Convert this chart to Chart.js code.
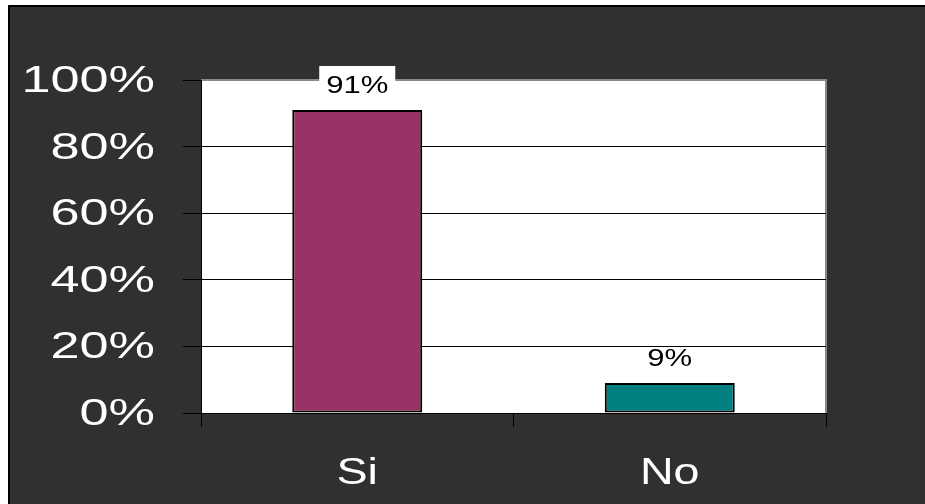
<!DOCTYPE html>
<html>
<head>
<meta charset="utf-8">
<script src="https://cdn.jsdelivr.net/npm/chart.js@4/dist/chart.umd.min.js"></script>
<style>
    html, body { margin: 0; padding: 0; background: #ffffff; }
    #wrap { width: 925px; height: 504px; position: relative; }
</style>
</head>
<body>
<div id="wrap"><canvas id="chart1" width="925" height="504"></canvas></div>
<script>
// values
const categories = ['Si', 'No'];
const answers = [91, 9];
const barColors = ['#993366', '#008080'];
const yTicks = [0, 20, 40, 60, 80, 100];

const font = '"Liberation Sans", Arial, sans-serif';

// the original text is drawn wide, so squeeze it out horizontally
function wideText(ctx, text, x, y, sx, align) {
    ctx.save();
    ctx.translate(x, y);
    ctx.scale(sx, 1);
    ctx.textAlign = align;
    ctx.textBaseline = 'middle';
    ctx.fillText(text, 0, 0);
    ctx.restore();
}

// dark slide background, white plot, gray frame and the label boxes (under the grid)
const backdrop = {
    id: 'backdrop',
    beforeDraw(chart) {
        const ctx = chart.ctx;
        const a = chart.chartArea;
        ctx.save();
        ctx.fillStyle = '#ffffff';
        ctx.fillRect(0, 0, chart.width, chart.height);
        ctx.fillStyle = '#303030';
        ctx.fillRect(9, 6, chart.width - 9, chart.height - 6);
        ctx.strokeStyle = '#000000';
        ctx.lineWidth = 2;
        ctx.beginPath();
        ctx.moveTo(9, chart.height);
        ctx.lineTo(9, 6);
        ctx.lineTo(chart.width, 6);
        ctx.stroke();

        ctx.fillStyle = '#ffffff';
        ctx.fillRect(a.left, a.top, a.right - a.left, a.bottom - a.top);
        ctx.strokeStyle = '#8a8a8a';
        ctx.lineWidth = 2;
        ctx.beginPath();
        ctx.moveTo(a.left, a.top);
        ctx.lineTo(a.right, a.top);
        ctx.lineTo(a.right, a.bottom);
        ctx.stroke();

        chart.getDatasetMeta(0).data.forEach(bar => {
            const y = bar.y - 23;
            ctx.fillStyle = '#ffffff';
            ctx.fillRect(bar.x - 38, y - 21, 76, 42);
        });
        ctx.restore();
    }
};

// axis labels and value labels
const labelsPlugin = {
    id: 'labelsPlugin',
    afterDraw(chart) {
        const ctx = chart.ctx;
        const ys = chart.scales.y;
        const xs = chart.scales.x;
        ctx.save();
        ctx.fillStyle = '#ffffff';
        ctx.font = '36px ' + font;
        ys.ticks.forEach((t, i) => {
            wideText(ctx, t.value + '%', ys.right - 46, ys.getPixelForTick(i) + 2, 1.45, 'right');
        });
        ctx.font = '37px ' + font;
        categories.forEach((c, i) => {
            wideText(ctx, c, xs.getPixelForTick(i), xs.top + 61, 1.26, 'center');
        });

        ctx.fillStyle = '#000000';
        ctx.font = '23px ' + font;
        chart.getDatasetMeta(0).data.forEach((bar, i) => {
            wideText(ctx, answers[i] + '%', bar.x, bar.y - 23, 1.35, 'center');
        });
        ctx.restore();
    }
};

const ctx1 = document.getElementById('chart1').getContext('2d');
const chart = new Chart(ctx1, {
    type: 'bar',
    data: {
        labels: categories,
        datasets: [{
            data: answers,
            backgroundColor: barColors,
            borderColor: '#000000',
            borderWidth: 2,
            borderSkipped: false,
            barPercentage: 0.416,
            categoryPercentage: 1
        }]
    },
    options: {
        responsive: false,
        animation: false,
        layout: { padding: { left: 0, top: 80, right: 99, bottom: 0 } },
        plugins: {
            legend: { display: false },
            tooltip: { enabled: false }
        },
        scales: {
            y: {
                min: 0,
                max: 100,
                afterFit: s => { s.width = 201; },
                afterBuildTicks: s => { s.ticks = yTicks.map(v => ({ value: v })); },
                ticks: {
                    color: 'rgba(0,0,0,0)',
                    padding: 28,
                    font: { family: font, size: 36 },
                    callback: v => v + '%'
                },
                grid: {
                    color: c => (c.tick && c.tick.value === 100 ? 'rgba(0,0,0,0)' : '#000000'),
                    tickColor: '#000000',
                    tickLength: 18,
                    lineWidth: 1
                },
                border: { color: '#000000', width: 1 }
            },
            x: {
                afterFit: s => { s.height = 91; },
                ticks: {
                    color: 'rgba(0,0,0,0)',
                    padding: 22,
                    font: { family: font, size: 37 }
                },
                grid: {
                    offset: true,
                    drawOnChartArea: false,
                    tickColor: '#000000',
                    tickLength: 14
                },
                border: { color: '#000000', width: 1 }
            }
        }
    },
    plugins: [backdrop, labelsPlugin]
});
</script>
</body>
</html>
